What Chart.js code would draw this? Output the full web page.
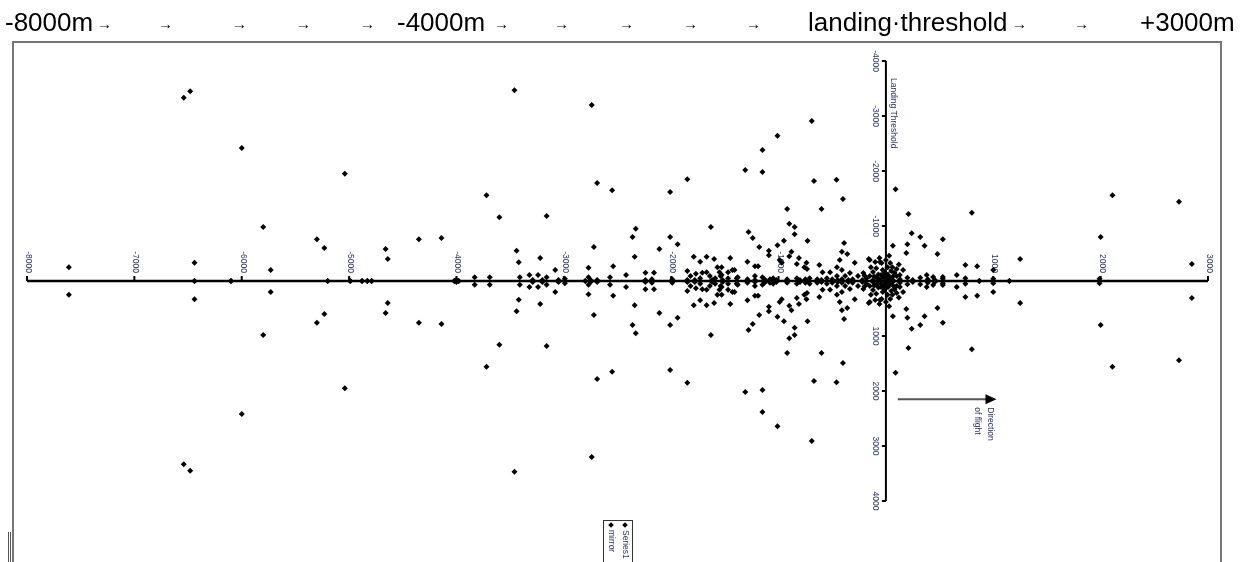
<!DOCTYPE html>
<html>
<head>
<meta charset="utf-8">
<script src="https://cdn.jsdelivr.net/npm/chart.js@4"></script>
<style>
html, body { margin: 0; padding: 0; background: #fff; }
#wrap { position: relative; width: 1246px; height: 562px; overflow: hidden; }
#header { position: absolute; left: 0; top: 0; width: 1246px; height: 40px;
  font-family: "Liberation Sans", Arial, sans-serif; color: #000; }
#header span { position: absolute; top: 9px; font-size: 26px; line-height: 26px; white-space: nowrap; }
#header span.arr { top: 16px; font-size: 15px; line-height: 15px; font-weight: bold; }
#plot { position: absolute; left: 0; top: 0; width: 1246px; height: 562px; }
</style>
</head>
<body>
<div id="wrap">
  <div id="plot"><canvas id="scatter"></canvas></div>
  <div id="header"></div>
</div>
<script>
// distance from landing threshold (m) and lateral offset (m)
const distance_m = [
  -7610,-6540,-6480,-6440,-6440,-6100,-6000,-5800,-5730,-5300,
  -5230,-5200,-5040,-4990,-4880,-4830,-4790,-4660,-4640,-4350,
  -4140,-4020,-4000,-3980,-3830,-3720,-3690,-3600,-3460,-3440,
  -3420,-3410,-3320,-3290,-3240,-3220,-3200,-3160,-3160,-3080,
  -3050,-2990,-2800,-2770,-2770,-2750,-2740,-2720,-2690,-2690,
  -2570,-2550,-2540,-2420,-2360,-2340,-2330,-2240,-2240,-2180,
  -2160,-2110,-2010,-2010,-1990,-1940,-1850,-1850,-1850,-1820,
  -1790,-1780,-1770,-1730,-1730,-1710,-1670,-1670,-1640,-1630,
  -1620,-1600,-1590,-1570,-1550,-1540,-1530,-1530,-1520,-1470,
  -1470,-1450,-1430,-1410,-1390,-1380,-1310,-1290,-1290,-1280,
  -1240,-1220,-1220,-1220,-1190,-1180,-1150,-1150,-1150,-1130,
  -1090,-1090,-1080,-1050,-1010,-1010,-1020,-990,-970,-950,
  -920,-920,-900,-900,-880,-850,-850,-830,-830,-810,
  -800,-760,-750,-740,-735,-730,-710,-690,-670,-640,
  -620,-600,-600,-590,-550,-520,-500,-460,-456,-456,
  -450,-430,-410,-410,-410,-400,-390,-380,-360,-350,
  -335,-310,-290,-260,-220,-210,-200,-180,-160,-150,
  -150,-140,-120,-120,-110,-100,-90,-85,-70,-60,
  -56,-56,-45,-40,-30,-28,-20,-10,0,10,
  15,20,30,37,40,50,60,65,65,70,
  80,90,100,100,120,130,130,160,190,200,
  200,210,240,250,320,320,360,380,390,440,
  456,480,530,530,530,660,740,740,800,850,
  870,1000,1000,1150,1250,1990,2000,2110,2730,2850
];

const series1_lateral = [
  -250,-3330,-3450,-330,0,0,-2420,-980,-200,-760,
  -600,0,-1950,0,0,0,0,-580,-400,-760,
  -780,0,-20,0,-70,-1560,-70,-1160,-3470,-550,
  -340,-70,-110,-20,-110,-420,-20,-1180,-70,-200,
  -20,-40,0,-240,-70,-20,-3200,-620,-1780,-20,
  -70,-1650,-270,-110,-800,-440,-950,-150,-20,-30,
  -150,-580,-1620,-800,-30,-670,-1850,-180,-20,-90,
  -440,-20,-130,-350,-50,-150,-440,-160,-90,-980,
  -20,-400,-50,-250,-160,-90,-250,-110,-20,-160,
  -50,-420,-200,-200,-50,-70,-2020,-350,-30,-890,
  -780,-270,-90,-20,-270,-620,-2380,-1980,-70,-30,
  -550,-470,-30,-50,-2640,-650,-20,-380,-330,-730,
  -1310,-30,-1040,-450,-530,-980,-850,-310,-50,-420,
  -20,-250,-30,-330,-220,-730,-50,-2910,-1820,-30,
  -290,-1310,-20,-160,-50,-160,-30,-1840,-250,-90,
  -20,-380,-530,-200,-30,-1490,-690,-90,-490,-20,
  -145,-30,-330,-90,-20,-145,-100,-50,-400,-380,
  -90,-250,-164,-20,-80,-345,-230,-60,-120,-420,
  -345,-30,-110,-327,-200,-90,-60,-150,-380,-20,
  -250,-110,-460,-60,-327,-180,-250,-640,-20,-90,
  -150,-1670,-218,-90,-300,-109,-30,-200,-510,-670,
  -60,-1220,-870,-20,-800,-60,-640,-109,-30,-73,
  -20,-490,-760,-73,-40,-110,-290,-50,-1240,-270,
  0,-200,-40,0,-400,-40,-800,-1560,-1440,-310
];

const mirror_lateral = [
  250,3330,3450,330,0,0,2420,980,200,760,
  600,0,1950,0,0,0,0,580,400,760,
  780,0,20,0,70,1560,70,1160,3470,550,
  340,70,110,20,110,420,20,1180,70,200,
  20,40,0,240,70,20,3200,620,1780,20,
  70,1650,270,110,800,440,950,150,20,30,
  150,580,1620,800,30,670,1850,180,20,90,
  440,20,130,350,50,150,440,160,90,980,
  20,400,50,250,160,90,250,110,20,160,
  50,420,200,200,50,70,2020,350,30,890,
  780,270,90,20,270,620,2380,1980,70,30,
  550,470,30,50,2640,650,20,380,330,730,
  1310,30,1040,450,530,980,850,310,50,420,
  20,250,30,330,220,730,50,2910,1820,30,
  290,1310,20,160,50,160,30,1840,250,90,
  20,380,530,200,30,1490,690,90,490,20,
  145,30,330,90,20,145,100,50,400,380,
  90,250,164,20,80,345,230,60,120,420,
  345,30,110,327,200,90,60,150,380,20,
  250,110,460,60,327,180,250,640,20,90,
  150,1670,218,90,300,109,30,200,510,670,
  60,1220,870,20,800,60,640,109,30,73,
  20,490,760,73,40,110,290,50,1240,270,
  0,200,40,0,400,40,800,1560,1440,310
];

const x_ticks = [-8000,-7000,-6000,-5000,-4000,-3000,-2000,-1000,0,1000,2000,3000];
const y_ticks = [-4000,-3000,-2000,-1000,1000,2000,3000,4000];
const series_names = ["Series1", "mirror"];

// header line: text pieces and left positions (px)
const header_words = [
  ["-8000m", 5], ["\u2192", 97], ["\u2192", 158], ["\u2192", 232], ["\u2192", 296], ["\u2192", 360],
  ["-4000m", 397], ["\u2192", 494], ["\u2192", 554], ["\u2192", 619], ["\u2192", 683], ["\u2192", 746],
  ["landing\u00b7threshold", 808], ["\u2192", 1012], ["\u2192", 1074], ["+3000m", 1140]
];

const header = document.getElementById("header");
header_words.forEach(([txt, left]) => {
    const s = document.createElement("span");
    s.textContent = txt;
    if (txt === "\u2192") s.className = "arr";
    s.style.left = left + "px";
    header.appendChild(s);
});

function to_points(xs, ys) {
    return xs.map((x, i) => ({ x: x, y: ys[i] }));
}

// rotated text, reading top to bottom, baseline on the left
function vtext(ctx, str, bx, y, align) {
    ctx.save();
    ctx.translate(bx, y);
    ctx.rotate(Math.PI / 2);
    ctx.textAlign = align;
    ctx.textBaseline = "alphabetic";
    ctx.fillText(str, 0, 0);
    ctx.restore();
}

function diamond(ctx, cx, cy, r) {
    ctx.beginPath();
    ctx.moveTo(cx, cy - r);
    ctx.lineTo(cx + r, cy);
    ctx.lineTo(cx, cy + r);
    ctx.lineTo(cx - r, cy);
    ctx.closePath();
    ctx.fill();
}

const axes_plugin = {
    id: "center_axes",
    beforeDatasetsDraw(chart) {
        const ctx = chart.ctx;
        const xs = chart.scales.x, ys = chart.scales.y;
        const x0 = xs.getPixelForValue(0), y0 = ys.getPixelForValue(0);

        ctx.save();
        // outer frame
        ctx.strokeStyle = "#767676";
        ctx.lineWidth = 2;
        ctx.beginPath();
        ctx.moveTo(13, 580); ctx.lineTo(13, 42); ctx.lineTo(1221, 42); ctx.lineTo(1221, 580);
        ctx.stroke();
        ctx.lineWidth = 1;
        ctx.strokeStyle = "#555";
        ctx.beginPath();
        ctx.moveTo(8.5, 532); ctx.lineTo(8.5, 562);
        ctx.moveTo(10.5, 532); ctx.lineTo(10.5, 562);
        ctx.stroke();

        // horizontal axis through lateral 0
        ctx.strokeStyle = "#000";
        ctx.lineWidth = 2.5;
        ctx.beginPath();
        ctx.moveTo(xs.getPixelForValue(x_ticks[0]), y0);
        ctx.lineTo(xs.getPixelForValue(x_ticks[x_ticks.length - 1]), y0);
        ctx.stroke();
        ctx.lineWidth = 2;
        ctx.beginPath();
        x_ticks.forEach(v => {
            const px = xs.getPixelForValue(v);
            ctx.moveTo(px, y0);
            ctx.lineTo(px, y0 - 5);
        });
        ctx.stroke();

        // vertical axis at the landing threshold
        ctx.beginPath();
        ctx.moveTo(x0, ys.getPixelForValue(-4000));
        ctx.lineTo(x0, ys.getPixelForValue(4000));
        y_ticks.forEach(v => {
            const py = ys.getPixelForValue(v);
            ctx.moveTo(x0, py);
            ctx.lineTo(x0 - 4, py);
        });
        ctx.stroke();

        // tick labels
        ctx.fillStyle = "#2e3763";
        ctx.font = "8.5px 'Liberation Sans', Arial, sans-serif";
        x_ticks.forEach(v => {
            vtext(ctx, String(v), xs.getPixelForValue(v) - 1, y0 - 8, "right");
        });
        y_ticks.forEach(v => {
            vtext(ctx, String(v), x0 - 13, ys.getPixelForValue(v), "center");
        });
        vtext(ctx, "Landing Threshold", x0 + 5, ys.getPixelForValue(-4000) + 17, "left");

        // direction of flight arrow
        const ay = ys.getPixelForValue(2150);
        const ax1 = xs.getPixelForValue(110), ax2 = xs.getPixelForValue(1030);
        ctx.strokeStyle = "#555";
        ctx.lineWidth = 1.8;
        ctx.beginPath();
        ctx.moveTo(ax1, ay);
        ctx.lineTo(ax2 - 10, ay);
        ctx.stroke();
        ctx.fillStyle = "#000";
        ctx.beginPath();
        ctx.moveTo(ax2, ay);
        ctx.lineTo(ax2 - 11, ay - 5);
        ctx.lineTo(ax2 - 11, ay + 5);
        ctx.closePath();
        ctx.fill();
        ctx.fillStyle = "#2e3763";
        vtext(ctx, "Direction", ax2 - 8, ay + 8, "left");
        vtext(ctx, "of flight", ax2 - 21, ay + 8, "left");

        // legend box
        ctx.strokeStyle = "#333";
        ctx.lineWidth = 1;
        ctx.strokeRect(603.5, 520.5, 29, 60);
        ctx.fillStyle = "#000";
        diamond(ctx, 625, 525, 2.8);
        diamond(ctx, 611, 525, 2.8);
        ctx.fillStyle = "#2e3763";
        vtext(ctx, series_names[0], 623, 530, "left");
        vtext(ctx, series_names[1], 609, 530, "left");
        ctx.restore();
    }
};

new Chart(document.getElementById("scatter"), {
    type: "scatter",
    data: {
        datasets: [{
            label: series_names[0],
            data: to_points(distance_m, series1_lateral),
            pointStyle: "rectRot",
            pointRadius: 3,
            backgroundColor: "#000",
            borderWidth: 0
        }, {
            label: series_names[1],
            data: to_points(distance_m, mirror_lateral),
            pointStyle: "rectRot",
            pointRadius: 3,
            backgroundColor: "#000",
            borderWidth: 0
        }]
    },
    options: {
        responsive: true,
        maintainAspectRatio: false,
        animation: false,
        layout: { padding: { left: 27, right: 38, top: 61, bottom: 61 } },
        plugins: { legend: { display: false }, tooltip: { enabled: false } },
        scales: {
            x: { type: "linear", min: -8000, max: 3000, display: false },
            y: { type: "linear", min: -4000, max: 4000, reverse: true, display: false }
        }
    },
    plugins: [axes_plugin]
});
</script>
</body>
</html>
